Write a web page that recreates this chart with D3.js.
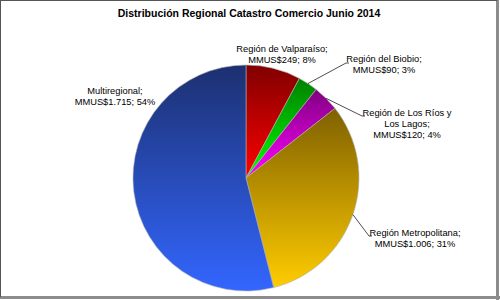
<!DOCTYPE html>
<html><head><meta charset="utf-8">
<script src="https://cdn.jsdelivr.net/npm/d3@7"></script>
<style>body{margin:0;background:#fff}svg{display:block}text{font-family:"Liberation Sans",Arial,sans-serif}</style>
</head><body>
<svg id="c" width="500" height="300"></svg>
<script>
const title = "Distribución Regional Catastro Comercio Junio 2014";
const categories = ["Región de Valparaíso", "Región del Biobio", "Región de Los Ríos y Los Lagos", "Región Metropolitana", "Multiregional"];
const values = [249, 90, 120, 1006, 1715];
const labelLines = [
  ["Región de Valparaíso;", "MMUS$249; 8%"],
  ["Región del Biobio;", "MMUS$90; 3%"],
  ["Región de Los Ríos y", "Los Lagos;", "MMUS$120; 4%"],
  ["Región Metropolitana;", "MMUS$1.006; 31%"],
  ["Multiregional;", "MMUS$1.715; 54%"]
];
const colorsTop = ["#800000", "#008000", "#800080", "#7f6000", "#1c3070"];
const colorsBottom = ["#ff0000", "#00ff00", "#ff00ff", "#ffcc00", "#3366ff"];

const svg = d3.select("#c");
svg.append("rect").attr("x",0).attr("y",0).attr("width",500).attr("height",300).attr("fill","#fff");
svg.append("line").attr("x1",497.5).attr("y1",0).attr("x2",497.5).attr("y2",300).attr("stroke","#8c8c8c").attr("stroke-width",3);
svg.append("line").attr("x1",0).attr("y1",297.5).attr("x2",500).attr("y2",297.5).attr("stroke","#8c8c8c").attr("stroke-width",3);
svg.append("line").attr("x1",0.5).attr("y1",0).attr("x2",0.5).attr("y2",297).attr("stroke","#555").attr("stroke-width",1);
svg.append("line").attr("x1",0).attr("y1",0.5).attr("x2",497).attr("y2",0.5).attr("stroke","#555").attr("stroke-width",1);

svg.append("text").attr("x",249).attr("y",17).attr("text-anchor","middle")
  .attr("font-weight","bold").attr("font-size",10.5).attr("fill","#000").text(title);

const cx = 246, cy = 178, r = 113;
const defs = svg.append("defs");
categories.forEach((c,i)=>{
  const g = defs.append("linearGradient").attr("id","g"+i).attr("x1",0).attr("y1",0).attr("x2",0).attr("y2",1);
  g.append("stop").attr("offset","0%").attr("stop-color",colorsTop[i]);
  g.append("stop").attr("offset","100%").attr("stop-color",colorsBottom[i]);
});

const pie = d3.pie().sort(null).value(d=>d);
const arcs = pie(values);
const arc = d3.arc().innerRadius(0).outerRadius(r);
const edge = d3.arc().innerRadius(r).outerRadius(r);
const gp = svg.append("g").attr("transform",`translate(${cx},${cy})`);
gp.selectAll("path").data(arcs).join("path")
  .attr("d",arc).attr("fill",(d,i)=>`url(#g${i})`)
  .attr("stroke","#b0b0b0").attr("stroke-width",0.6);

const labelPos = [
  {x:282, y:52, leader:null},
  {x:384, y:62, leader:[346,63]},
  {x:407, y:116, leader:[362,116]},
  {x:415, y:236, leader:[369,236]},
  {x:115, y:94, leader:null}
];
const lh = 11;
arcs.forEach((a,i)=>{
  const p = labelPos[i];
  if(p.leader){
    const s = edge.centroid(a);
    const sx = s[0]+cx, sy = s[1]+cy;
    svg.append("path").attr("d",`M${sx},${sy}L${p.leader[0]},${p.leader[1]}L${p.leader[0]+3},${p.leader[1]}`)
      .attr("fill","none").attr("stroke","#000").attr("stroke-width",0.7);
  }
  const t = svg.append("text").attr("text-anchor","middle").attr("font-size",9.3).attr("fill","#000");
  labelLines[i].forEach((ln,j)=>{
    t.append("tspan").attr("x",p.x).attr("y",p.y + j*lh).text(ln);
  });
});
</script>
</body></html>
